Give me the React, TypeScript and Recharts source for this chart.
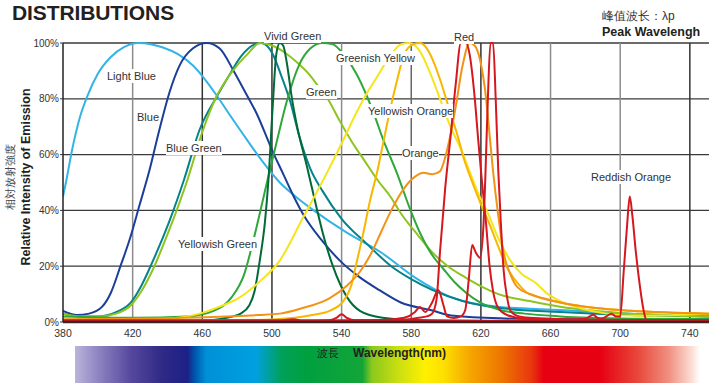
import { LineChart, Line, XAxis, YAxis, CartesianGrid, ReferenceLine } from "recharts";

// wavelength (nm), relative intensity (%)
const lightBlue = [[380,45],[382,51],[385,61],[390,74],[394,81],[400,89],[407.5,95],[415,98.5],[423,100],[431,99.5],[437,98.5],[446,96],[454.5,92],[461.5,87],[468.5,81],[476,74],[486,65],[494,58],[504.5,50],[513.5,45],[524,40],[543,32],[562.5,25],[582,16],[602.5,9],[631,5.4],[665.5,4.3],[706,3],[751,2]];
const blue = [[380,4],[388,2.5],[395,3],[402.5,5.5],[407.5,10.5],[413,20],[418.5,30],[424,42],[429.5,54],[435,68],[441,82],[447,92],[454.5,98],[462.5,100],[470,98],[478,90],[485,82],[491,75],[500.5,61],[506.5,53],[512.5,45],[518.5,38],[529,29],[539,22],[550.5,16],[561.5,11.5],[574,7],[591,4.3],[604.5,2.2],[631,1.3],[665.5,1],[751,1]];
const blueGreen = [[380,3],[390,2],[400.5,2],[410.5,3.5],[419,7],[425,13],[431,21],[441,36],[449.5,51],[458.5,69],[468.5,81],[476,89],[482,95],[490,99.5],[494,100],[500.5,96],[505.5,88],[510.5,79],[515.5,67],[522,55],[529,47],[540,37],[554.5,28],[568.5,20],[581,15],[592,11.5],[609.5,7.5],[631,5],[665.5,3.6],[706,2.5],[751,2]];
const yellowishGreen = [[380,3],[390,2],[400.5,2],[410.5,3],[419,6],[425,11],[431,18],[441,33],[451.5,51],[460.5,69],[467.5,80],[474,87],[480,92],[486,96],[493,100],[500.5,99],[507.5,96.5],[514.5,93],[521,89],[526,85],[532,80],[539,72],[545.5,65],[553.5,57.5],[560.5,51],[568,45],[574,39],[584,31],[592,25],[601,20],[611,16],[621,12.5],[630,10],[648,7.5],[665.5,5.5],[706,3],[751,2]];
const vividGreen = [[380,0.5],[461.5,0.5],[474,1.5],[482,3],[487,6],[490,11],[493,22],[496,36],[498,51],[500.5,78],[502.5,96],[504.5,100],[506.5,99],[508.5,93],[511.5,80],[514.5,70],[520,56],[526,40],[530,30],[535,20],[543,9],[550.5,4],[563.5,1.5],[581,0.7],[625,0.4],[751,0.3]];
const green = [[380,2],[421,1.5],[451.5,2],[466.5,4],[477,9],[484,17],[490,31],[497.5,51],[502.5,64],[508.5,79],[515.5,92],[522,98],[529,100],[535,99.5],[541,96],[548.5,89],[554.5,81],[559.5,73],[563.5,66],[572,53],[579,41],[585,32],[592,24],[598.5,19],[604.5,14.5],[611.5,10.5],[619.5,7],[631,4.3],[645,3],[665.5,2],[706,1.2],[751,1]];
const greenishYellow = [[380,0.5],[431,0.7],[446,1.5],[458.5,3],[470,5.5],[482,9],[492,14],[504.5,22],[517.5,37],[532,54],[540,64],[548.5,75],[554.5,82],[560.5,88],[567.5,95],[574,99.5],[579,100],[585,97],[591,89],[596.5,80],[602.5,70],[608.5,62],[613.5,54],[618.5,46],[624,39],[630,30],[637,22],[643,17.5],[651.5,14],[658.5,10],[665.5,7.5],[674,5.5],[683,4],[692,3],[711.5,2.2],[732,2.5],[751,3]];
const yellowishOrange = [[380,0.5],[482,0.7],[502.5,1],[523,2.5],[533,4],[541,7.5],[545.5,13],[548.5,21],[552.5,32],[556.5,44],[560.5,54],[563.5,63],[567.5,75],[572,87],[576,96],[581,99.5],[585,100],[589,98],[593,93],[596.5,87],[601.5,77],[606.5,67],[610.5,58],[614.5,51],[619.5,43],[625,35],[630,27],[635,19.5],[641,14],[646.5,10.5],[656,8.5],[665.5,7],[686,5],[706,4],[751,3]];
const orange = [[380,1],[421,1.2],[461.5,1.7],[492,2.5],[504.5,3],[517.5,5],[533,8.5],[543,13],[550.5,18],[556.5,24],[562.5,32],[568.5,40],[576,48],[582,52],[587,53.5],[592,53],[596.5,54],[599.5,59],[602.5,67],[605.5,77],[609.5,92],[613.5,100],[616.5,99],[619.5,94],[623,80],[625,67],[627,54],[630,38],[633,25],[637,17],[641,12.5],[650.5,9.5],[665.5,7],[686,5],[706,4],[751,3]];
const red = [[380,0.5],[502.5,0.5],[512.5,1],[517.5,0.5],[532.5,0.6],[537,1.5],[540,2.8],[543,1.5],[548,0.6],[574,0.8],[584,1.5],[589,2],[592,3],[594.5,8],[596.5,25],[599.5,48],[602.5,66],[605.5,85],[608.5,100],[611.5,100],[613.5,96],[616.5,80],[618.5,65],[620.5,51],[623,35],[625,20],[627,11],[630,5],[635,2.5],[645,1.2],[686,0.6],[751,0.5]];
const red2 = [[380,0.5],[523,0.5],[563.5,0.7],[576,1.5],[582,3.5],[585,5.4],[588,3.6],[592,7],[595.5,11.5],[598.5,6],[600.5,2],[604.5,1.4],[608.5,2],[611,4.3],[613,15],[615,27.6],[617,25],[619.5,23],[621.5,35],[622.5,51],[624,80],[625.5,100],[627,100],[628.5,80],[630,54],[631.5,35],[633,19],[635,9],[637,4],[642,2],[650.5,1.4],[686,0.8],[751,0.5]];
const reddishOrange = [[380,0.3],[653,0.5],[672,0.8],[680,1.2],[684.5,2.6],[687,1.5],[689,1],[692,2],[695,3],[697.5,2],[700,2],[702,18],[704,35],[705.5,45],[707,38],[709,25],[711.5,12],[713.5,4],[715,0.8],[726,0.6],[751,0.5]];

const xTicks = [380, 420, 460, 500, 540, 580, 620, 660, 700, 740];
const yTicks = [0, 20, 40, 60, 80, 100];
const darkX = [460, 500, 620, 740];

const series = [
  { name: "Light Blue", color: "#33b3e6", pts: lightBlue },
  { name: "Blue", color: "#1b3f98", pts: blue },
  { name: "Blue Green", color: "#05838a", pts: blueGreen },
  { name: "Yellowish Green", color: "#8ec41f", pts: yellowishGreen },
  { name: "Green", color: "#2fa83a", pts: green },
  { name: "Vivid Green", color: "#006b38", pts: vividGreen },
  { name: "Greenish Yellow", color: "#f4e51c", pts: greenishYellow },
  { name: "Yellowish Orange", color: "#f8b700", pts: yellowishOrange },
  { name: "Orange", color: "#f39315", pts: orange },
  { name: "Red", color: "#d5171f", pts: red },
  { name: "Red 2", color: "#d5171f", pts: red2 },
  { name: "Reddish Orange", color: "#d5171f", pts: reddishOrange },
];

const labels = [
  { text: "Light Blue", x: 107, y: 76 },
  { text: "Blue", x: 137, y: 117 },
  { text: "Blue Green", x: 166, y: 148 },
  { text: "Yellowish Green", x: 178, y: 244 },
  { text: "Vivid Green", x: 264, y: 36 },
  { text: "Green", x: 306, y: 92 },
  { text: "Greenish Yellow", x: 336, y: 58 },
  { text: "Yellowish Orange", x: 368, y: 111 },
  { text: "Orange", x: 402, y: 153 },
  { text: "Red", x: 454, y: 37 },
  { text: "Reddish Orange", x: 591, y: 177 },
];

const font = "'Liberation Sans', Arial, Helvetica, sans-serif";

export default function App() {
  return (
    <div style={{ position: "absolute", left: 0, top: 0, width: 709, height: 383, background: "#fff", overflow: "hidden", fontFamily: font, color: "#231f20" }}>
      <LineChart width={709} height={383} margin={{ top: 43, right: 0, bottom: 41, left: 0 }}>
        <CartesianGrid vertical={false} stroke="#3a3a3a" strokeWidth={1.3} />
        {xTicks.slice(1).map((t) => (
          <ReferenceLine key={t} x={t} stroke={darkX.includes(t) ? "#333" : t === 580 ? "#666" : "#8c8c8c"} strokeWidth={1.5} />
        ))}
        <XAxis
          type="number"
          dataKey="x"
          domain={[380, 751]}
          ticks={xTicks}
          allowDataOverflow
          height={20}
          tickLine={false}
          axisLine={{ stroke: "#3a2424", strokeWidth: 2.5 }}
          tick={{ fontSize: 10.5, fill: "#333", fontFamily: font }}
        />
        <YAxis
          type="number"
          domain={[0, 100]}
          ticks={yTicks}
          width={63}
          tickFormatter={(v) => v + "%"}
          tickSize={3}
          tickMargin={1}
          tickLine={{ stroke: "#333" }}
          axisLine={{ stroke: "#222", strokeWidth: 1.5 }}
          tick={{ fontSize: 10, fill: "#333", fontFamily: font }}
        />
        {series.map((s) => (
          <Line
            key={s.name}
            data={s.pts.map(([x, y]) => ({ x, y }))}
            dataKey="y"
            type="monotone"
            stroke={s.color}
            strokeWidth={2}
            dot={false}
            activeDot={false}
            isAnimationActive={false}
          />
        ))}
      </LineChart>

      {labels.map((l) => (
        <div key={l.text} style={{ position: "absolute", left: l.x, top: l.y - 7, fontSize: 11, lineHeight: "14px", background: "#fff", color: "#333", whiteSpace: "nowrap" }}>
          {l.text}
        </div>
      ))}

      <div style={{ position: "absolute", left: 12, top: 1, fontSize: 21, fontWeight: 900, letterSpacing: -0.1, lineHeight: "24px" }}>DISTRIBUTIONS</div>
      <div style={{ position: "absolute", left: 602, top: 8, fontSize: 12, lineHeight: "16px", color: "#333", whiteSpace: "nowrap" }}>峰值波长：λp</div>
      <div style={{ position: "absolute", left: 602, top: 24, fontSize: 12.5, fontWeight: 700, lineHeight: "16px", whiteSpace: "nowrap" }}>Peak Wavelengh</div>

      <div style={{ position: "absolute", left: 10, top: 177, width: 0, height: 0 }}>
        <div style={{ position: "absolute", transform: "translate(-50%,-50%) rotate(-90deg)", fontSize: 11, color: "#444", whiteSpace: "nowrap", lineHeight: "12px" }}>相対放射強度</div>
      </div>
      <div style={{ position: "absolute", left: 26, top: 177, width: 0, height: 0 }}>
        <div style={{ position: "absolute", transform: "translate(-50%,-50%) rotate(-90deg)", fontSize: 12.5, fontWeight: 700, whiteSpace: "nowrap", lineHeight: "14px" }}>Relative Intensity of Emission</div>
      </div>

      <svg style={{ position: "absolute", left: 75, top: 346 }} width={625} height={37}>
        <defs>
          <linearGradient id="spec" x1="0" x2="1" y1="0" y2="0">
            <stop offset="0" stopColor="#bab5db" />
            <stop offset="0.04" stopColor="#8b80c0" />
            <stop offset="0.09" stopColor="#55479d" />
            <stop offset="0.14" stopColor="#2e2a86" />
            <stop offset="0.18" stopColor="#1d2087" />
            <stop offset="0.19" stopColor="#0050a8" />
            <stop offset="0.21" stopColor="#0090d8" />
            <stop offset="0.29" stopColor="#00a0e0" />
            <stop offset="0.33" stopColor="#00a05a" />
            <stop offset="0.37" stopColor="#00a040" />
            <stop offset="0.46" stopColor="#13a538" />
            <stop offset="0.475" stopColor="#8cc81e" />
            <stop offset="0.52" stopColor="#cde010" />
            <stop offset="0.56" stopColor="#fff000" />
            <stop offset="0.59" stopColor="#fde000" />
            <stop offset="0.63" stopColor="#f6a800" />
            <stop offset="0.68" stopColor="#ee7800" />
            <stop offset="0.73" stopColor="#e8380d" />
            <stop offset="0.75" stopColor="#e60012" />
            <stop offset="0.84" stopColor="#e60012" />
            <stop offset="0.9" stopColor="#e8473a" />
            <stop offset="0.95" stopColor="#f09080" />
            <stop offset="0.985" stopColor="#fbd9d0" />
            <stop offset="1" stopColor="#ffffff" />
          </linearGradient>
        </defs>
        <rect x={0} y={0} width={625} height={37} fill="url(#spec)" />
      </svg>
      <div style={{ position: "absolute", left: 317, top: 346, fontSize: 11, lineHeight: "14px", whiteSpace: "nowrap" }}>波長</div>
      <div style={{ position: "absolute", left: 353, top: 345, fontSize: 12, fontWeight: 700, lineHeight: "16px", whiteSpace: "nowrap" }}>Wavelength(nm)</div>
    </div>
  );
}
